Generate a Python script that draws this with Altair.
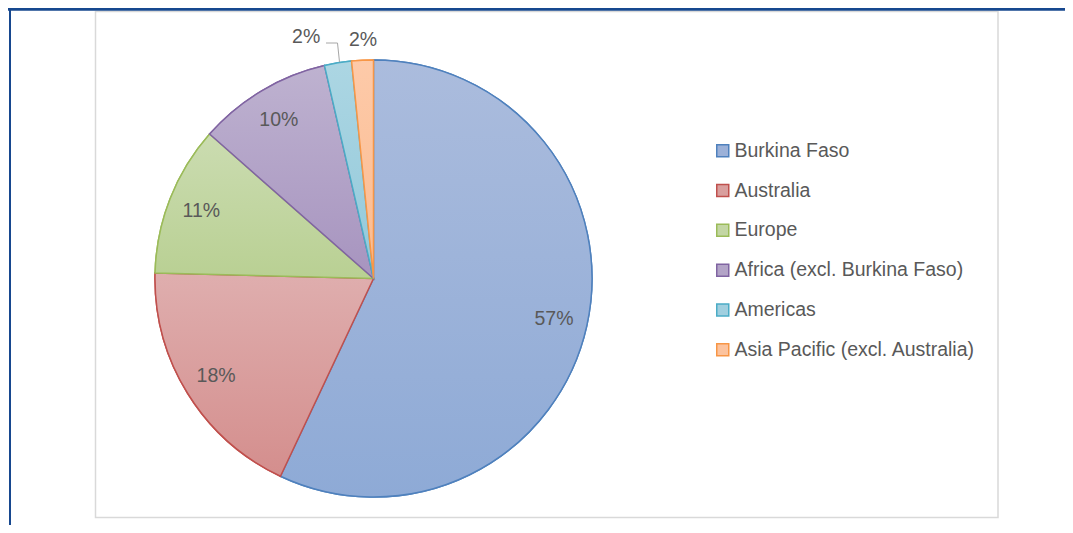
import altair as alt
import pandas as pd

categories = [
    "Burkina Faso",
    "Australia",
    "Europe",
    "Africa (excl. Burkina Faso)",
    "Americas",
    "Asia Pacific (excl. Australia)",
]
shares = [57.0, 18.4, 11.1, 9.9, 2.0, 1.6]
legend_fill = ["#9cb1d8", "#d99f9e", "#c3d6a4", "#b3a4c7", "#a0cfdf", "#fcc39e"]
stroke_colors = ["#4f81bd", "#c0504d", "#9bbb59", "#8064a2", "#4bacc6", "#f79646"]
grad_top = ["#abbcdd", "#dfaeae", "#cbdcb1", "#beb2d0", "#acd6e3", "#fdcaa9"]
grad_bottom = ["#8eaad6", "#d48e8d", "#b9d093", "#a794bf", "#93c9da", "#fbbb90"]

df = pd.DataFrame({"cat": categories, "value": shares, "order": list(range(len(categories)))})

TEXT = "#595959"
FONT = "Liberation Sans"
CX, CY, R = 365.5, 270.5, 218.5

theta_scale = alt.Scale(domain=[0, 100])

base = alt.Chart(df).transform_window(
    cum="sum(value)", sort=[alt.SortField("order")], frame=[None, 0]
).transform_calculate(
    start="datum.cum - datum.value",
    mid="datum.cum - datum.value / 2",
    label="format(datum.value, '.0f') + '%'",
)

# legend-carrying layer (solid fills)
legend_layer = base.mark_arc(radius=R, strokeWidth=1.5).encode(
    theta=alt.Theta("start:Q", scale=theta_scale),
    theta2="cum:Q",
    x=alt.value(CX),
    y=alt.value(CY),
    fill=alt.Fill("cat:N", scale=alt.Scale(domain=categories, range=legend_fill),
                  legend=alt.Legend(title=None)),
    stroke=alt.Stroke("cat:N", scale=alt.Scale(domain=categories, range=stroke_colors),
                      legend=alt.Legend(title=None)),
)

def grad(top, bottom):
    return {
        "gradient": "linear", "x1": 0, "y1": 0, "x2": 0, "y2": 1,
        "stops": [{"offset": 0, "color": top}, {"offset": 1, "color": bottom}],
    }

cond = alt.when(alt.datum.cat == categories[0]).then(alt.value(grad(grad_top[0], grad_bottom[0])))
for i in range(1, len(categories) - 1):
    cond = cond.when(alt.datum.cat == categories[i]).then(alt.value(grad(grad_top[i], grad_bottom[i])))
fill_cond = cond.otherwise(alt.value(grad(grad_top[-1], grad_bottom[-1])))

grad_layer = base.mark_arc(radius=R, strokeWidth=1.5).encode(
    theta=alt.Theta("start:Q", scale=theta_scale),
    theta2="cum:Q",
    x=alt.value(CX),
    y=alt.value(CY),
    fill=fill_cond,
    stroke=alt.Stroke("cat:N", scale=alt.Scale(domain=categories, range=stroke_colors), legend=None),
)

text_common = dict(font=FONT, fontSize=19.5, color=TEXT, align="center", baseline="middle")

inner_text = base.transform_filter("datum.value >= 5").mark_text(radius=185, **text_common).encode(
    theta=alt.Theta("mid:Q", scale=theta_scale),
    x=alt.value(CX), y=alt.value(CY),
    text="label:N",
)
amer_text = base.transform_filter(alt.datum.cat == categories[4]).mark_text(
    radius=245, dx=-27.5, **text_common).encode(
    theta=alt.Theta("mid:Q", scale=theta_scale),
    x=alt.value(CX), y=alt.value(CY),
    text="label:N",
)
asia_text = base.transform_filter(alt.datum.cat == categories[5]).mark_text(
    radius=239, dx=1.5, **text_common).encode(
    theta=alt.Theta("mid:Q", scale=theta_scale),
    x=alt.value(CX), y=alt.value(CY),
    text="label:N",
)

# leader line for the Americas label
leader_h = alt.Chart(df.head(1)).mark_rule(color="#a6a6a6", strokeWidth=1).encode(
    x=alt.value(318), x2=alt.value(329.5), y=alt.value(35), y2=alt.value(35))
leader_v = alt.Chart(df.head(1)).mark_rule(color="#a6a6a6", strokeWidth=1).encode(
    x=alt.value(329.5), x2=alt.value(331.5), y=alt.value(35), y2=alt.value(54))

# frame: chart-area border, blue top bar, blue left line
border = alt.Chart(df.head(1)).mark_rect(fill="white", stroke="#d9d9d9", strokeWidth=1.5).encode(
    x=alt.value(87.5), x2=alt.value(990), y=alt.value(3.5), y2=alt.value(509.5))
top_bar = alt.Chart(df.head(1)).mark_rect(fill="#17488f").encode(
    x=alt.value(0), x2=alt.value(1057), y=alt.value(0), y2=alt.value(2.7))
left_bar = alt.Chart(df.head(1)).mark_rect(fill="#17488f").encode(
    x=alt.value(1), x2=alt.value(3), y=alt.value(0), y2=alt.value(517))

chart = alt.layer(
    border, top_bar, left_bar, legend_layer, grad_layer, inner_text, amer_text, asia_text,
    leader_h, leader_v,
).properties(
    width=1057, height=517,
    autosize=alt.AutoSizeParams(type="none"),
    padding=0,
).configure_view(stroke=None).configure_legend(
    orient="none", legendX=705, legendY=133, padding=0,
    symbolType="square", symbolSize=144, symbolStrokeWidth=1.5,
    labelFont=FONT, labelFontSize=19.5, labelColor=TEXT, labelOffset=2,
    rowPadding=18.8, labelLimit=400,
)

chart.save("out.html", embed_options={"renderer": "svg", "actions": False})
